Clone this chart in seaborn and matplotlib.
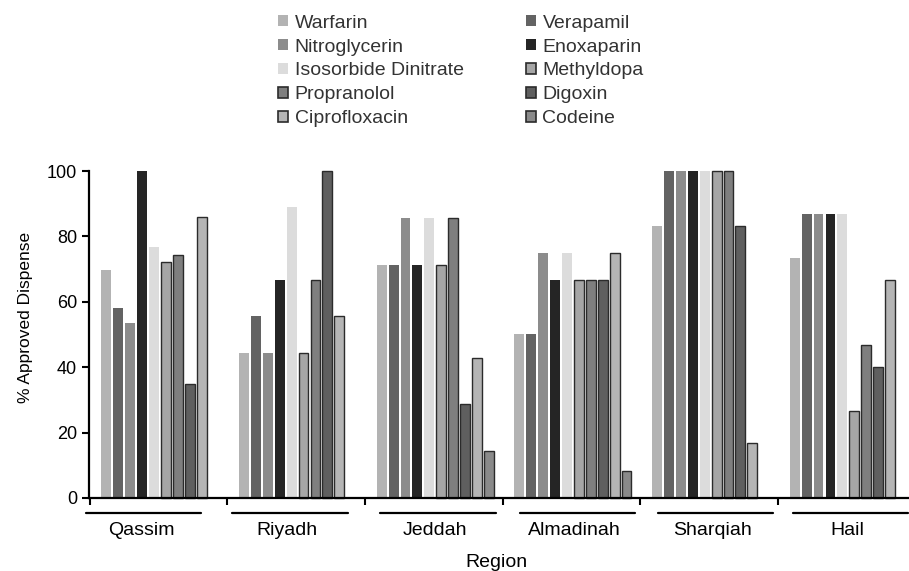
import numpy as np
import pandas as pd
import seaborn as sns
import matplotlib.pyplot as plt
import matplotlib.patches as mpatches
import matplotlib.transforms as mtransforms

# Settings
sns.set_style("ticks")
plt.rcParams['font.family'] = ['Liberation Sans', 'DejaVu Sans']

regions = ['Qassim', 'Riyadh', 'Jeddah', 'Almadinah', 'Sharqiah', 'Hail']
drugs = ['Warfarin', 'Verapamil', 'Nitroglycerin', 'Enoxaparin', 'Isosorbide Dinitrate',
         'Methyldopa', 'Propranolol', 'Digoxin', 'Ciprofloxacin', 'Codeine']

# % approved dispense per region, in drug order (NaN = no bar)
qassim = [69.8, 58.1, 53.5, 100, 76.7, 72.1, 74.4, 34.9, 86.0, np.nan]
riyadh = [44.4, 55.6, 44.4, 66.7, 88.9, 44.4, 66.7, 100, 55.6, np.nan]
jeddah = [71.4, 71.4, 85.7, 71.4, 85.7, 71.4, 85.7, 28.6, 42.9, 14.3]
almadinah = [50.0, 50.0, 75.0, 66.7, 75.0, 66.7, 66.7, 66.7, 75.0, 8.3]
sharqiah = [83.3, 100, 100, 100, 100, 100, 100, 83.3, 16.7, np.nan]
hail = [73.3, 86.7, 86.7, 86.7, 86.7, 26.7, 46.7, 40.0, 66.7, np.nan]

fill_colors = ['#b3b3b3', '#636363', '#8c8c8c', '#252525', '#dcdcdc',
               '#a6a6a6', '#7f7f7f', '#5f5f5f', '#b5b5b5', '#8a8a8a']
has_edge = [False, False, False, False, False, True, True, True, True, True]

# where each group's underline starts, relative to the group centre (layout only)
underline_start = [-0.534, -0.473, -0.398, -0.387, -0.384, -0.403]
underline_len = 0.836

rows = []
for reg, vals in zip(regions, [qassim, riyadh, jeddah, almadinah, sharqiah, hail]):
    for d, v in zip(drugs, vals):
        rows.append({'Region': reg, 'Drug': d, 'Pct': v})
df = pd.DataFrame(rows)

fig = plt.figure(figsize=(9.09, 5.71), dpi=100)
ax = fig.add_axes([0.0979, 0.1279, 0.902, 0.5726])

sns.barplot(data=df, x='Region', y='Pct', hue='Drug', order=regions, hue_order=drugs,
            palette=fill_colors, saturation=1, width=0.865, gap=0.17,
            errorbar=None, legend=False, ax=ax)

# Borders only on the last five series
edge_for = {c: e for c, e in zip(fill_colors, has_edge)}
for p in ax.patches:
    fc = '#%02x%02x%02x' % tuple(int(round(c * 255)) for c in p.get_facecolor()[:3])
    if edge_for.get(fc, False):
        p.set_edgecolor('#2b2b2b')
        p.set_linewidth(1.0)
    else:
        p.set_linewidth(0)
    p.set_clip_on(False)

ax.set_ylim(0, 100)
ax.set_xlim(-0.515, 5.44)
ax.set_yticks([0, 20, 40, 60, 80, 100])
ax.set_xticks(np.arange(len(regions)) - 0.51)
ax.set_xticklabels([])
ax.tick_params(axis='both', width=1.5, length=5, labelsize=13, colors='black')
for s in ['left', 'bottom']:
    ax.spines[s].set_linewidth(1.6)
    ax.spines[s].set_color('black')
sns.despine(ax=ax)

# Group labels with underlines
trans = mtransforms.blended_transform_factory(ax.transData, ax.transAxes)
for i, reg in enumerate(regions):
    x0 = i + underline_start[i]
    ax.plot([x0, x0 + underline_len], [-0.046, -0.046], color='black', lw=1.6,
            transform=trans, clip_on=False)
    ax.text(x0 + underline_len / 2 - 0.02, -0.098, reg, transform=trans,
            ha='center', va='center', fontsize=14, color='black')

ax.set_xlabel('Region', fontsize=14, color='black')
ax.xaxis.set_label_coords(0.497, -0.172)
ax.set_ylabel('% Approved Dispense', fontsize=12.5, color='black')
ax.yaxis.set_label_coords(-0.068, 0.552)

# Legend, filled row by row
handles = []
for c, e in zip(fill_colors, has_edge):
    if e:
        handles.append(mpatches.Patch(facecolor=c, edgecolor='#2b2b2b', linewidth=1.2))
    else:
        handles.append(mpatches.Patch(facecolor=c, edgecolor='none'))
order = list(range(0, 10, 2)) + list(range(1, 10, 2))
fig.legend([handles[k] for k in order], [drugs[k] for k in order],
           loc='upper left', bbox_to_anchor=(0.306, 0.974), bbox_transform=fig.transFigure,
           ncol=2, frameon=False, fontsize=14, labelcolor='#333333',
           handlelength=0.5, handleheight=0.5, handletextpad=0.35,
           labelspacing=0.35, columnspacing=3.2, borderpad=0, borderaxespad=0)

fig.savefig('out.png', dpi=100)
